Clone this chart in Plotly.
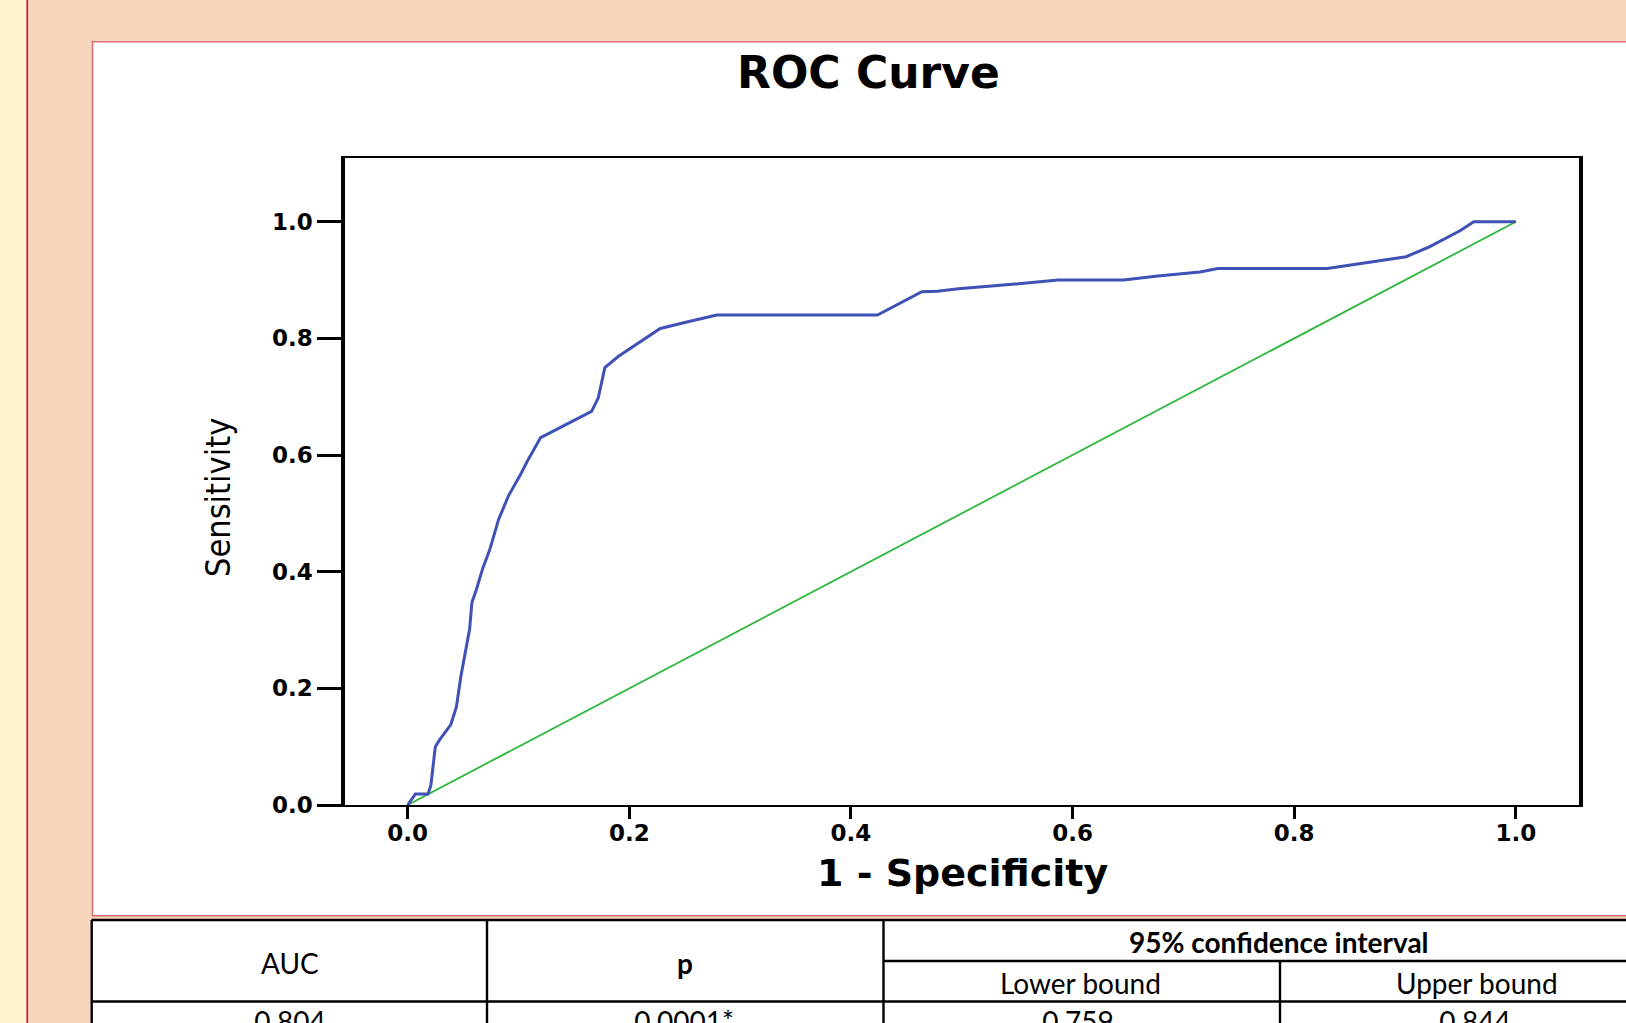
import plotly.graph_objects as go

W, H = 1626, 1023

# ROC curve data
fpr = [0.0, 0.007, 0.0185, 0.021, 0.025, 0.029, 0.039, 0.044, 0.048, 0.053, 0.056, 0.058,
       0.062, 0.068, 0.074, 0.082, 0.091, 0.102, 0.109, 0.120, 0.139, 0.166, 0.172, 0.178,
       0.190, 0.207, 0.228, 0.252, 0.279, 0.424, 0.464, 0.478, 0.497, 0.535, 0.554, 0.587,
       0.646, 0.677, 0.715, 0.731, 0.830, 0.856, 0.901, 0.922, 0.950, 0.962, 1.0]
tpr = [0.0, 0.019, 0.019, 0.034, 0.100, 0.112, 0.138, 0.168, 0.220, 0.272, 0.302, 0.347,
       0.369, 0.407, 0.437, 0.489, 0.530, 0.567, 0.593, 0.630, 0.649, 0.675, 0.698, 0.750,
       0.769, 0.791, 0.817, 0.828, 0.840, 0.840, 0.880, 0.881, 0.885, 0.891, 0.894, 0.900,
       0.900, 0.907, 0.914, 0.920, 0.920, 0.927, 0.940, 0.957, 0.985, 1.000, 1.000]
ref_x = [0.0, 1.0]
ref_y = [0.0, 1.0]

tick_vals = [0.0, 0.2, 0.4, 0.6, 0.8, 1.0]
tick_text = ["0.0", "0.2", "0.4", "0.6", "0.8", "1.0"]

title_text = "ROC Curve"
x_title = "1 - Specificity"
y_title = "Sensitivity"

table_header1 = ["AUC", "p", "95% confidence interval"]
table_header2 = ["Lower bound", "Upper bound"]
table_row = ["0.804", "0.0001*", "0.759", "0.844"]
table_row_x = [290, 684, 1078, 1475]


def fx(p):
    return p / W


def fy(p):
    return 1 - p / H


fig = go.Figure()
fig.add_trace(go.Scatter(x=ref_x, y=ref_y, mode="lines",
                         line=dict(color="#2DB83D", width=1.8), showlegend=False,
                         hoverinfo="skip"))
fig.add_trace(go.Scatter(x=fpr, y=tpr, mode="lines",
                         line=dict(color="#3F51B5", width=3), showlegend=False))

tfont = dict(family="Lato, Open Sans, sans-serif", size=28, color="black")

# data row of the table: text partly cut by the bottom of the page (clipped to a pixel axis)
fig.add_trace(go.Scatter(x=table_row_x, y=[1025] * len(table_row), mode="text",
                         text=table_row, textposition="middle center", textfont=tfont,
                         cliponaxis=True, showlegend=False, hoverinfo="skip",
                         xaxis="x2", yaxis="y2"))

shapes = []
# left yellow strip and red line
shapes.append(dict(type="rect", xref="paper", yref="paper", x0=0, x1=fx(26.5), y0=0, y1=1,
                   fillcolor="#FFF2CC", line=dict(width=0), layer="below"))
shapes.append(dict(type="line", xref="paper", yref="paper", x0=fx(27.3), x1=fx(27.3), y0=0, y1=1,
                   line=dict(color="#C0142C", width=1.6), layer="below"))
# white panel
shapes.append(dict(type="rect", xref="paper", yref="paper", x0=fx(92.5), x1=1.01,
                   y0=fy(915.7), y1=fy(41.7),
                   fillcolor="white", line=dict(color="#DC6E78", width=1.6), layer="below"))
# table background
shapes.append(dict(type="rect", xref="paper", yref="paper", x0=fx(91.5), x1=1,
                   y0=0, y1=fy(919.5),
                   fillcolor="white", line=dict(width=0), layer="below"))
# table lines
lc = dict(color="black", width=2.4)
shapes.append(dict(type="line", xref="paper", yref="paper", x0=fx(91.5), x1=1,
                   y0=fy(920), y1=fy(920), line=lc))
shapes.append(dict(type="line", xref="paper", yref="paper", x0=fx(883.5), x1=1,
                   y0=fy(961), y1=fy(961), line=lc))
shapes.append(dict(type="line", xref="paper", yref="paper", x0=fx(91.5), x1=1,
                   y0=fy(1001.5), y1=fy(1001.5), line=lc))
for xv, ytop in [(91.7, 920), (487, 920), (883.5, 920), (1280, 961)]:
    shapes.append(dict(type="line", xref="paper", yref="paper", x0=fx(xv), x1=fx(xv),
                       y0=0, y1=fy(ytop), line=lc))


def ann(text, xp, yp, font, angle=0):
    return dict(text=text, x=fx(xp), y=fy(yp), xref="paper", yref="paper",
                showarrow=False, xanchor="center", yanchor="middle", textangle=angle,
                font=font)


annotations = []
annotations.append(ann(f"<b>{title_text}</b>", 868, 72,
                       dict(family="DejaVu Sans", size=44, color="black")))
annotations.append(ann(f"<b>{x_title}</b>", 962, 873,
                       dict(family="DejaVu Sans", size=38, color="black")))
annotations.append(ann(y_title, 218, 497,
                       dict(family="Liberation Sans Narrow, DejaVu Sans Condensed, Liberation Sans",
                            size=34, color="black"), angle=-90))

annotations.append(ann(table_header1[0], 290, 963, tfont))
annotations.append(ann(f"<b>{table_header1[1]}</b>", 685, 963, tfont))
annotations.append(ann(f"<b>{table_header1[2]}</b>", 1279, 942, tfont))
annotations.append(ann(table_header2[0], 1080, 983, tfont))
annotations.append(ann(table_header2[1], 1477, 983, tfont))

tickfont = dict(family="DejaVu Sans", size=23, color="black", weight="bold")

fig.update_layout(
    template="none",
    width=W, height=H,
    autosize=False,
    margin=dict(l=0, r=0, t=0, b=0, pad=0, autoexpand=False),
    paper_bgcolor="#F8D5BD",
    plot_bgcolor="white",
    shapes=shapes,
    annotations=annotations,
    showlegend=False,
    xaxis=dict(domain=[fx(345), fx(1579)], range=[-0.0565, 1.057], automargin=False,
               tickvals=tick_vals, ticktext=tick_text, ticks="outside", ticklen=12,
               tickwidth=3, tickcolor="black", tickfont=tickfont, ticklabelstandoff=-5,
               showline=True, linecolor="black", linewidth=1.6, mirror=True,
               showgrid=False, zeroline=False, fixedrange=True),
    yaxis=dict(domain=[fy(805), fy(157.6)], range=[0, 1.110], automargin=False,
               tickvals=tick_vals, ticktext=tick_text, ticks="outside", ticklen=24,
               tickwidth=3, tickcolor="black", tickfont=tickfont,
               showline=True, linecolor="black", linewidth=3.5, mirror=True,
               showgrid=False, zeroline=False, fixedrange=True),
    xaxis2=dict(domain=[fx(94), 1], range=[94, W], visible=False, fixedrange=True,
                automargin=False, anchor="y2"),
    yaxis2=dict(domain=[0, fy(1003)], range=[1023, 1003], visible=False, fixedrange=True,
                automargin=False, anchor="x2"),
)

post = (
    "var h=document.documentElement,b=document.body;"
    "h.style.margin='0';h.style.padding='0';h.style.overflow='hidden';"
    "b.style.margin='0';b.style.padding='0';b.style.overflow='hidden';"
)

fig.write_html("out.html", config={"displayModeBar": False},
               post_script=post)
